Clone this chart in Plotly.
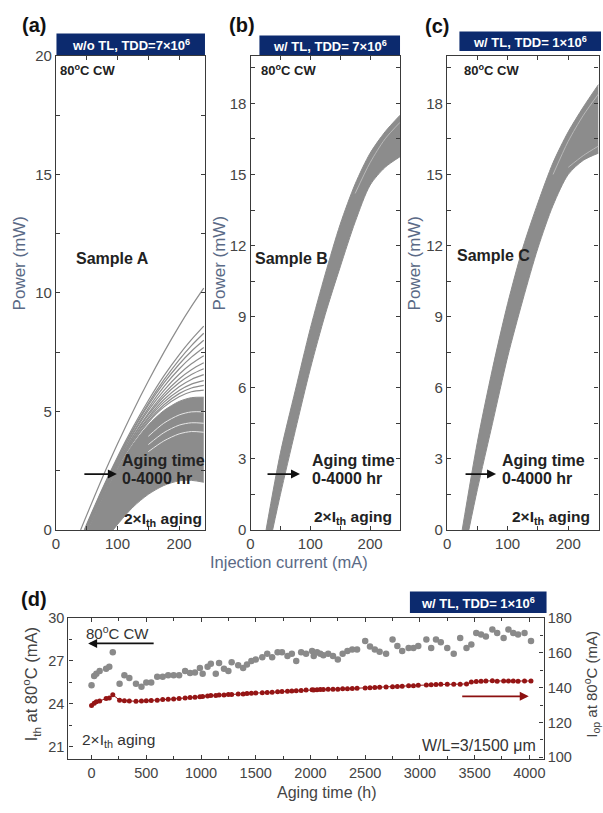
import plotly.graph_objects as go

W, H = 603, 813

# ---------------- (a) Sample A: w/o TL, TDD = 7e6 ----------------
A_GRID = [75, 100, 125, 150, 175, 200, 220, 240]          # injection current (mA)
A_LINE_ITH = [40, 46, 47, 47, 48, 48, 49, 49, 50, 50, 51, 51]
A_LINE_P = [
    [2.18, 3.63, 5.00, 6.28, 7.48, 8.60, 9.43, 10.20],
    [1.72, 3.08, 4.33, 5.46, 6.49, 7.39, 8.03, 8.60],
    [1.66, 3.01, 4.24, 5.34, 6.32, 7.18, 7.78, 8.30],
    [1.65, 2.99, 4.19, 5.26, 6.19, 6.99, 7.54, 8.00],
    [1.59, 2.92, 4.10, 5.14, 6.04, 6.79, 7.29, 7.70],
    [1.58, 2.89, 4.04, 5.04, 5.88, 6.57, 7.01, 7.35],
    [1.52, 2.82, 3.95, 4.92, 5.73, 6.37, 6.76, 7.05],
    [1.52, 2.80, 3.91, 4.85, 5.62, 6.21, 6.56, 6.80],
    [1.46, 2.74, 3.84, 4.75, 5.49, 6.04, 6.35, 6.55],
    [1.46, 2.72, 3.80, 4.68, 5.38, 5.88, 6.15, 6.30],
    [1.40, 2.66, 3.73, 4.60, 5.27, 5.75, 5.99, 6.10],
    [1.39, 2.65, 3.70, 4.54, 5.18, 5.62, 5.83, 5.90],
]
# dense band of aged curves: upper and lower envelope
A_BAND_UP_ITH = 52
A_BAND_UP_P = [1.34, 2.58, 3.61, 4.43, 5.03, 5.42, 5.58, 5.60]
A_BAND_LO_ITH = 93
A_BAND_LO_GRID = [100, 125, 150, 175, 200, 220, 240]
A_BAND_LO_P = [0.23, 0.96, 1.50, 1.87, 2.07, 2.09, 2.01]
# light gaps between bunched curves inside the band
A_GAP_GRID = [150, 175, 200, 220, 240]
A_GAP_P = [
    [3.95, 4.50, 4.85, 4.98, 4.98],
    [3.60, 4.10, 4.42, 4.52, 4.50],
    [3.30, 3.75, 4.05, 4.15, 4.12],
]

# ---------------- (b) Sample B: w/ TL, TDD = 7e6 ----------------
B_GRID = [50, 75, 100, 125, 150, 175, 200, 225, 250]
B_UP_ITH = 26
B_UP_P = [3.25, 5.90, 8.50, 10.80, 12.90, 14.60, 15.90, 16.80, 17.50]
B_LO_ITH = 37
B_LO_P = [1.50, 4.20, 6.80, 9.10, 11.10, 13.00, 14.55, 15.30, 15.75]
B_STREAK_GRID = [175, 200, 225, 250]
B_STREAK_P = [14.2, 15.5, 16.5, 17.2]

# ---------------- (c) Sample C: w/ TL, TDD = 1e6 ----------------
C_GRID = [50, 75, 100, 125, 150, 175, 200, 225, 250]
C_UP_ITH = 25
C_UP_P = [3.70, 6.80, 9.55, 11.90, 13.80, 15.50, 16.80, 17.85, 18.80]
C_LO_ITH = 36
C_LO_P = [1.70, 4.50, 7.30, 9.70, 11.90, 13.70, 15.00, 15.60, 15.90]
C_STREAK_GRID = [[175, 200, 225, 250], [200, 225, 250]]
C_STREAK_P = [[15.0, 16.4, 17.5, 18.4], [15.3, 15.8, 16.2]]

# ---------------- (d) aging of sample C ----------------
AGING_H = [0, 24, 44, 74, 133, 162, 194,
           256, 300, 345, 406, 456,
           500, 545, 600, 650, 700, 750, 800, 855, 900, 945, 990,
           1015, 1060, 1090, 1135, 1165, 1210, 1250, 1280, 1340, 1385, 1420, 1460,
           1500, 1560, 1605, 1650, 1700, 1740, 1790, 1830, 1870, 1915, 1960,
           2015, 2030, 2060, 2090, 2118, 2162, 2206, 2250, 2294, 2338, 2382, 2426,
           2500, 2544, 2588, 2632, 2691, 2750, 2794, 2838, 2897, 2941, 2985,
           3059, 3103, 3147, 3191, 3250, 3309, 3368, 3426, 3470,
           3515, 3559, 3603, 3662, 3706, 3765, 3809, 3853, 3897, 3956, 4015]
ITH_MA = [25.3, 25.95, 26.1, 26.3, 26.45, 26.6, 27.6,
          25.4, 26.0, 25.8, 25.4, 25.2,
          25.5, 25.5, 25.9, 25.9, 26.0, 26.0, 26.0, 26.3, 26.15, 26.2, 26.5,
          26.1, 26.6, 26.8, 26.1, 26.85, 26.45, 26.3, 26.9, 26.7, 26.5, 26.75, 27.0,
          27.1, 27.25, 27.5, 27.25, 27.6, 27.6, 27.35, 27.5, 27.0, 27.6, 27.5,
          27.7, 27.35, 27.6, 27.5, 27.4, 27.5, 27.35, 27.1, 27.5, 27.7, 27.8, 27.8,
          28.4, 28.0, 27.8, 27.65, 27.5, 28.5, 28.05, 27.7, 27.9, 27.9, 28.05,
          28.5, 27.9, 28.5, 28.3, 27.9, 27.5, 28.6, 27.9, 28.15,
          28.95, 28.85, 28.7, 29.2, 28.95, 28.6, 29.2, 28.95, 28.85, 28.95, 28.4]
IOP_MA = [129.7, 131.0, 131.9, 132.3, 133.8, 134.0, 135.9,
          132.8, 132.5, 132.3, 132.1, 132.3,
          132.4, 132.6, 132.8, 133.1, 133.3, 133.5, 133.8, 134.0, 134.3, 134.5, 134.8,
          134.9, 135.2, 135.4, 135.5, 135.7, 135.8, 136.0, 136.1, 136.3, 136.4, 136.6, 136.7,
          136.9, 137.0, 137.2, 137.4, 137.6, 137.7, 137.9, 138.1, 138.2, 138.4, 138.6,
          138.8, 138.7, 138.8, 138.9, 138.9, 139.0, 139.0, 139.1, 139.3, 139.4, 139.5, 139.6,
          139.8, 139.9, 140.1, 140.2, 140.3, 140.5, 140.6, 140.8, 141.0, 141.1, 141.3,
          141.5, 141.7, 141.8, 141.9, 142.0, 142.0, 142.0, 142.1, 143.2,
          143.5, 143.7, 143.8, 143.9, 143.7, 143.8, 143.8, 143.8, 143.7, 143.8, 143.8]

GRAY = "#8c8c8c"
NAVY = "#0c2a6e"
AXIS_BLUE = "#5a6a86"
FONT = "Liberation Sans, Arial, sans-serif"


def px(x):
    return x / W


def py(y):
    return 1 - y / H


fig = go.Figure()


def curve(xa, ya, xs, ys, color=GRAY, width=1.2, **kw):
    fig.add_trace(go.Scatter(x=xs, y=ys, xaxis=xa, yaxis=ya, mode="lines",
                             line=dict(color=color, width=width, shape="spline", smoothing=0.8),
                             hoverinfo="skip", showlegend=False, **kw))


# (a)
curve("x", "y", [A_BAND_LO_ITH] + A_BAND_LO_GRID, [0] + A_BAND_LO_P, width=1)
curve("x", "y", [A_BAND_UP_ITH] + A_GRID, [0] + A_BAND_UP_P, width=1,
      fill="tonexty", fillcolor=GRAY)
for ith, p in zip(A_LINE_ITH, A_LINE_P):
    curve("x", "y", [ith] + A_GRID, [0] + p)
for p in A_GAP_P:
    curve("x", "y", A_GAP_GRID, p, color="#e6e6e6", width=1)

# (b)
curve("x2", "y2", [B_LO_ITH] + B_GRID, [0] + B_LO_P, width=1)
curve("x2", "y2", [B_UP_ITH] + B_GRID, [0] + B_UP_P, width=1, fill="tonexty", fillcolor=GRAY)
curve("x2", "y2", B_STREAK_GRID, B_STREAK_P, color="#c4c4c4", width=0.8)

# (c)
curve("x3", "y3", [C_LO_ITH] + C_GRID, [0] + C_LO_P, width=1)
curve("x3", "y3", [C_UP_ITH] + C_GRID, [0] + C_UP_P, width=1, fill="tonexty", fillcolor=GRAY)
for g, p in zip(C_STREAK_GRID, C_STREAK_P):
    curve("x3", "y3", g, p, color="#c4c4c4", width=0.8)

# (d)
fig.add_trace(go.Scatter(x=AGING_H, y=ITH_MA, xaxis="x4", yaxis="y4", mode="markers",
                         marker=dict(color="#8a8a8a", size=6.5), showlegend=False, hoverinfo="skip"))
fig.add_trace(go.Scatter(x=AGING_H, y=IOP_MA, xaxis="x4", yaxis="y5", mode="lines+markers",
                         line=dict(color="#951515", width=1),
                         marker=dict(color="#951515", size=5), showlegend=False, hoverinfo="skip"))

base = dict(showline=True, linecolor="#3a3a3a", linewidth=1.3, mirror="ticks",
            ticks="inside", ticklen=4, tickcolor="#3a3a3a", tickwidth=1,
            showgrid=False, zeroline=False,
            tickfont=dict(family=FONT, size=15, color="#444"))

LI_TOP, LI_BOT = 48, 532


def li_x(dom_l, dom_r, xmax):
    return dict(base, domain=[px(dom_l), px(dom_r)], range=[0, xmax], dtick=100, tick0=0,
                minor=dict(ticks="inside", ticklen=4, dtick=50, tickcolor="#3a3a3a"))


def li_y(anchor, ymax, dt):
    return dict(base, domain=[py(LI_BOT), py(LI_TOP)], range=[0, ymax], dtick=dt, tick0=0,
                anchor=anchor,
                minor=dict(ticks="inside", ticklen=4, dtick=dt / 2, tickcolor="#3a3a3a"))


d_tick = dict(family=FONT, size=14.5, color="#444")

fig.update_layout(
    width=W, height=H, margin=dict(l=0, r=0, t=0, b=0),
    paper_bgcolor="white", plot_bgcolor="white",
    font=dict(family=FONT, color="#333"),
    xaxis=dict(li_x(52.5, 203, 242), anchor="y"),
    yaxis=li_y("x", 20, 5),
    xaxis2=dict(li_x(249, 400, 250), anchor="y2"),
    yaxis2=li_y("x2", 20, 3),
    xaxis3=dict(li_x(447.5, 600.5, 250), anchor="y3"),
    yaxis3=li_y("x3", 20, 3),
    xaxis4=dict(base, domain=[px(65), px(545)], range=[-212, 4130], dtick=500, tick0=0,
                anchor="y4", tickfont=d_tick,
                minor=dict(ticks="inside", ticklen=3, dtick=250, tickcolor="#3a3a3a")),
    yaxis4=dict(base, domain=[py(766), py(622)], range=[20.15, 30], dtick=3, tick0=21,
                anchor="x4", mirror=False, tickfont=d_tick,
                minor=dict(ticks="inside", ticklen=3, dtick=1.5, tickcolor="#3a3a3a")),
    yaxis5=dict(base, domain=[py(766), py(622)], range=[99, 180], dtick=20, tick0=100,
                anchor="x4", overlaying="y4", side="right", mirror=False, tickfont=d_tick,
                minor=dict(ticks="inside", ticklen=3, dtick=10, tickcolor="#3a3a3a")),
)

shapes = []
ann = []


def text(x, y, s, size=13, bold=False, color="#222", xanchor="left", angle=0):
    ann.append(dict(x=px(x), y=py(y), xref="paper", yref="paper", text=f"<b>{s}</b>" if bold else s,
                    showarrow=False, xanchor=xanchor, yanchor="middle", textangle=angle,
                    font=dict(family=FONT, size=size, color=color)))


def title_box(x0, x1, y0, y1, s):
    shapes.append(dict(type="rect", xref="paper", yref="paper", x0=px(x0), x1=px(x1),
                       y0=py(y1), y1=py(y0), fillcolor=NAVY, line=dict(width=0), layer="above"))
    text((x0 + x1) / 2, (y0 + y1) / 2 + 0.5, s, size=13, bold=True, color="white", xanchor="center")


def arrow(x0, x1, y, color="#111"):
    ann.append(dict(x=px(x1), y=py(y), ax=x0 - x1, ay=0, xref="paper", yref="paper",
                    axref="pixel", ayref="pixel", text="", showarrow=True,
                    arrowhead=2, arrowsize=1, arrowwidth=1.8, arrowcolor=color))


# panel letters
text(30, 16, "(a)", 20, True, "#111", "center")
text(240, 16, "(b)", 20, True, "#111", "center")
text(437, 17, "(c)", 20, True, "#111", "center")
text(30, 603, "(d)", 20, True, "#111", "center")

title_box(53, 203, 25, 47, "w/o TL, TDD=7×10<sup>6</sup>")
title_box(258, 400, 27, 47, "w/ TL, TDD= 7×10<sup>6</sup>")
title_box(460, 603, 23, 43, "w/ TL, TDD= 1×10<sup>6</sup>")
title_box(410, 548, 595, 617, "w/ TL, TDD= 1×10<sup>6</sup>")

# LI panel labels
for x0 in (55, 258, 463):
    text(x0, 62, "80<sup>o</sup>C CW", 13, True)
text(71, 255, "Sample A", 16, True)
text(251, 255, "Sample B", 16, True)
text(456, 252, "Sample C", 16, True)

for tx, ax0, ax1 in ((117, 80, 114), (309, 265, 299), (501, 465, 497)):
    text(tx, 461, "Aging time", 16, True)
    text(tx, 480, "0-4000 hr", 16, True)
    arrow(ax0, ax1, 475)
text(119, 521, "2×I<sub>th</sub> aging", 15.5, True)
text(311, 519, "2×I<sub>th</sub> aging", 15.5, True)
text(511, 519, "2×I<sub>th</sub> aging", 15.5, True)

for x0 in (16, 218, 415):
    text(x0, 260, "Power (mW)", 17, False, AXIS_BLUE, "center", -90)
text(288, 565, "Injection current (mA)", 16.5, False, AXIS_BLUE, "center")

# aging panel labels
text(81, 637, "80<sup>o</sup>C CW", 15, False, "#333")
arrow(152, 85, 648)
text(77, 747, "2×I<sub>th</sub> aging", 15.5, False, "#333")
text(539, 752, "W/L=3/1500 μm", 16, False, "#333", "right")
arrow(462, 530, 702, "#8c1010")
text(27, 690, "I<sub>th</sub> at 80<sup>o</sup>C (mA)", 16.5, False, "#444", "center", -90)
text(593, 690, "I<sub>op</sub> at 80<sup>o</sup>C (mA)", 15, False, "#444", "center", -90)
text(326, 800, "Aging time (h)", 16, False, "#444", "center")

fig.update_layout(shapes=shapes, annotations=ann)
fig.write_html("out.html")
